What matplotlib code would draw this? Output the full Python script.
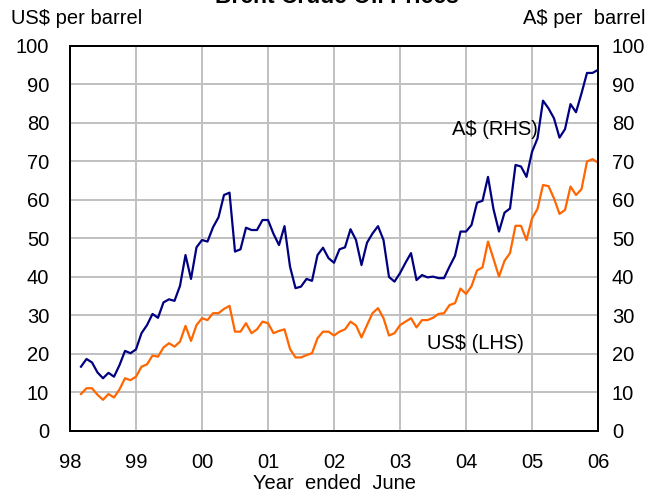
import numpy as np
import matplotlib
matplotlib.use("Agg")
import matplotlib.pyplot as plt

plt.rcParams['font.family'] = ['Liberation Sans', 'DejaVu Sans']

# monthly, Aug 1998 .. Jun 2006 (x in years since June 1998)
year_labels = ["98", "99", "00", "01", "02", "03", "04", "05", "06"]

aud_price = [
    16.7, 18.7, 17.8, 15.2, 13.7, 15.1, 14.1, 17.1, 20.8, 20.2,
    21.2, 25.4, 27.5, 30.4, 29.4, 33.4, 34.2, 33.8, 37.7, 45.7,
    39.5, 47.7, 49.6, 49.2, 52.9, 55.5, 61.3, 61.9, 46.6, 47.2,
    52.8, 52.2, 52.2, 54.8, 54.8, 51.2, 48.3, 53.2, 42.7, 37.1,
    37.5, 39.5, 39.0, 45.7, 47.6, 44.9, 43.7, 47.2, 47.7, 52.4,
    49.6, 43.1, 48.9, 51.3, 53.2, 49.6, 40.0, 38.8, 41.0, 43.7,
    46.2, 39.2, 40.5, 39.9, 40.1, 39.7, 39.7, 42.7, 45.5, 51.8,
    51.8, 53.5, 59.3, 59.8, 66.0, 57.6, 51.8, 56.7, 57.8, 69.1,
    68.7, 66.0, 72.5, 76.0, 85.8, 83.8, 81.2, 76.2, 78.4, 84.9,
    82.8, 87.7, 93.0, 93.0, 93.8,
]

usd_price = [
    9.6, 11.1, 11.1, 9.4, 8.1, 9.6, 8.7, 10.8, 13.7, 13.2,
    14.1, 16.7, 17.3, 19.6, 19.3, 21.7, 22.8, 21.9, 23.2, 27.3,
    23.4, 27.5, 29.3, 28.8, 30.6, 30.6, 31.7, 32.5, 25.8, 25.8,
    28.0, 25.4, 26.4, 28.4, 28.0, 25.4, 26.0, 26.4, 21.3, 19.1,
    19.1, 19.7, 20.2, 24.1, 25.8, 25.8, 24.8, 25.8, 26.4, 28.4,
    27.4, 24.3, 27.5, 30.6, 31.9, 29.3, 24.8, 25.4, 27.5, 28.4,
    29.3, 26.9, 28.8, 28.8, 29.4, 30.4, 30.6, 32.7, 33.2, 37.0,
    35.6, 37.6, 41.7, 42.5, 49.2, 44.7, 40.1, 44.2, 46.2, 53.3,
    53.3, 49.6, 55.2, 57.7, 63.9, 63.6, 60.4, 56.4, 57.4, 63.5,
    61.3, 62.8, 70.0, 70.6, 69.7,
]

months = (np.arange(len(usd_price)) + 2) / 12.0

fs = 14.5

fig = plt.figure(figsize=(6.61, 4.93), dpi=100)
ax = fig.add_axes([0.1059, 0.1258, 0.7988, 0.7809])
ax2 = ax.twinx()

ax.plot(months, usd_price, color="#FF6600", lw=1.6, zorder=3)
ax2.plot(months, aud_price, color="#000080", lw=1.6, zorder=3)

for a in (ax, ax2):
    a.set_xlim(0, 8)
    a.set_ylim(0, 100)
    a.set_yticks(np.arange(0, 101, 10))
    for s in a.spines.values():
        s.set_linewidth(1.4)
        s.set_color("black")

ax.set_xticks(range(len(year_labels)))
ax.set_xticklabels(year_labels)
ax.grid(True, color="#c0c0c0", lw=1.4, zorder=0)
ax.set_axisbelow(True)
ax.tick_params(axis="both", length=0, labelsize=fs)
ax.tick_params(axis="y", pad=15)
ax.tick_params(axis="x", pad=16)
ax2.tick_params(axis="y", length=0, labelsize=fs, pad=10)

ax.set_xlabel("Year  ended  June", fontsize=fs, labelpad=1.5)

fig.text(0.016, 0.962, "US$ per barrel", fontsize=fs, ha="left", va="center")
fig.text(0.977, 0.962, "A$ per  barrel", fontsize=fs, ha="right", va="center")
fig.text(0.51, 1.008, "Brent Crude Oil Prices", fontsize=16.5, fontweight="bold",
         ha="center", va="center")

ax.text(6.44, 78.2, "A$ (RHS)", fontsize=fs, ha="center", va="center")
ax.text(6.15, 22.6, "US$ (LHS)", fontsize=fs, ha="center", va="center")

fig.savefig("out.png", dpi=100)
